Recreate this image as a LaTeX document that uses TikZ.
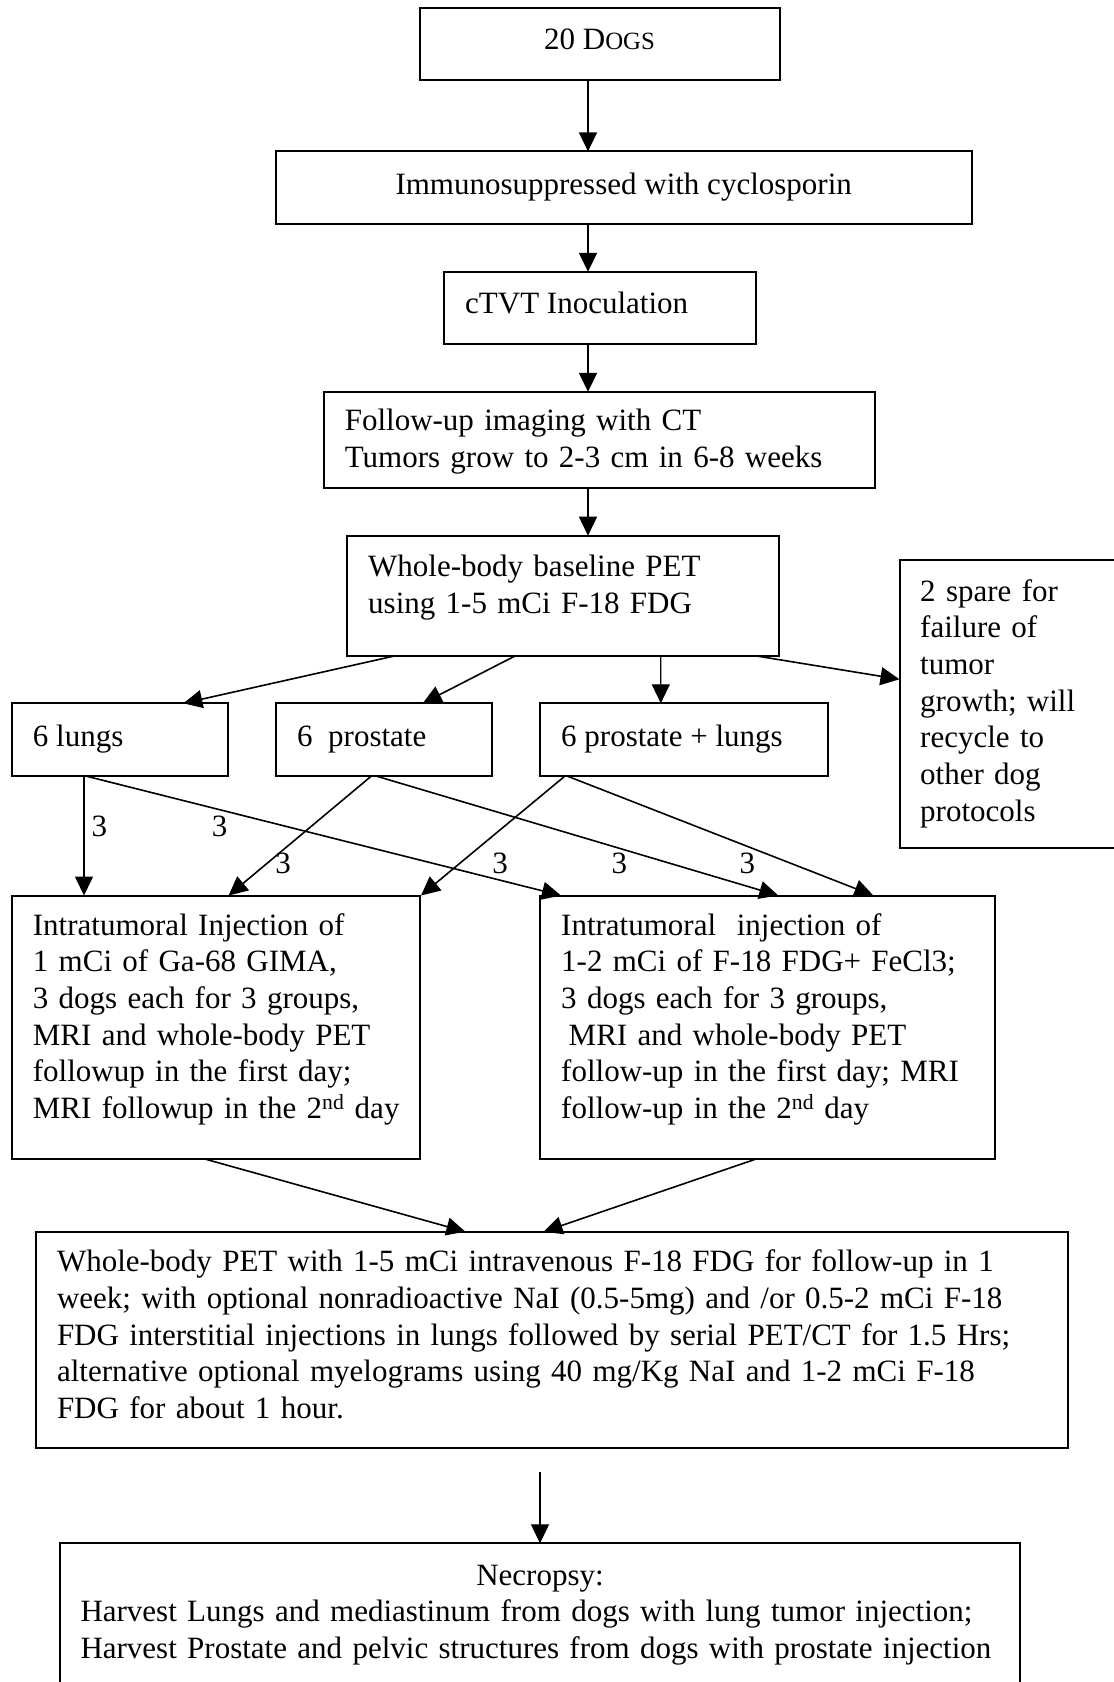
\documentclass[tikz,border=0pt]{standalone}
\usepackage{fontspec}
\setmainfont{Liberation Serif}
\usetikzlibrary{arrows.meta}
\begin{document}
\begin{tikzpicture}[x=1pt,y=-1pt,
 box/.style={draw,line width=2pt,inner sep=0pt,outer sep=0pt,anchor=north west},
 txt/.style={inner sep=0pt,anchor=base west,align=left,font=\fontsize{31}{36.7}\selectfont},
 lbl/.style={inner sep=0pt,font=\fontsize{31}{36.7}\selectfont},
 arr/.style={line width=1.6pt,-{Triangle[length=19pt,width=18pt]}},
 thinarr/.style={line width=1.2pt,-{Triangle[length=19pt,width=18pt]}}]
\clip (0,0) rectangle (1114,1682);
\fill[white] (0,0) rectangle (1114,1682);
% boxes
\node[box,minimum width=360pt,minimum height=72.5pt] (dogs) at (420,7.5) {};
\node[box,minimum width=696.3pt,minimum height=72.6pt] (imm) at (275.7,151.4) {};
\node[box,minimum width=312pt,minimum height=72.2pt] (ctvt) at (444,271.8) {};
\node[box,minimum width=551pt,minimum height=96.2pt] (fol) at (324,391.8) {};
\node[box,minimum width=432pt,minimum height=120.3pt] (wb) at (347.4,535.7) {};
\node[box,minimum width=240pt,minimum height=287.5pt] (spare) at (899.5,560) {};
\node[box,minimum width=216.5pt,minimum height=72.7pt] (lungs) at (11.5,703.3) {};
\node[box,minimum width=215.9pt,minimum height=72.7pt] (prost) at (275.7,703.3) {};
\node[box,minimum width=288pt,minimum height=72.7pt] (pl) at (540,703.3) {};
\node[box,minimum width=408.5pt,minimum height=263.8pt] (inj1) at (11.5,895.5) {};
\node[box,minimum width=455.4pt,minimum height=263.8pt] (inj2) at (540,895.5) {};
\node[box,minimum width=1032.5pt,minimum height=216pt] (pet) at (35.5,1231.7) {};
\node[box,minimum width=960.3pt,minimum height=160pt] (necro) at (59.7,1543.3) {};
% texts
\node[lbl,anchor=base] (tdogs) at (599.5,49.3) {20 D{\fontsize{24.8}{30}\selectfont OGS}};
\node[lbl,anchor=base] (timm) at (623.7,194.5) {Immunosuppressed with cyclosporin};
\node[txt] (tctvt) at (465,313.5) {cTVT Inoculation};
\node[txt,text width=520pt] (tfol) at (344.6,430.5) {Follow-up imaging with CT\\Tumors grow to 2-3 cm in 6-8 weeks};
\node[txt,text width=400pt] (twb) at (368,576.7) {Whole-body baseline PET\\using 1-5 mCi F-18 FDG};
\node[txt,text width=190pt] (tspare) at (920,601) {2 spare for\\failure of\\tumor\\growth; will\\recycle to\\other dog\\protocols};
\node[txt] (tl) at (32.7,746.7) {6 lungs};
\node[txt] (tp) at (297,746.7) {6~ prostate};
\node[txt] (tpl) at (561,746.7) {6 prostate + lungs};
\node[txt,text width=385pt] (ti1) at (32.7,935) {Intratumoral Injection of\\1 mCi of Ga-68 GIMA,\\3 dogs each for 3 groups,\\MRI and whole-body PET\\followup in the first day;\\MRI followup in the 2\textsuperscript{nd} day};
\node[txt,text width=430pt] (ti2) at (561,935) {Intratumoral~ injection of\\1-2 mCi of F-18 FDG+ FeCl3;\\3 dogs each for 3 groups,\\\hspace*{7.5pt}MRI and whole-body PET\\follow-up in the first day; MRI\\follow-up in the 2\textsuperscript{nd} day};
\node[txt,text width=1005pt] (tpet) at (56.8,1271.7) {Whole-body PET with 1-5 mCi intravenous F-18 FDG for follow-up in 1\\week; with optional nonradioactive NaI (0.5-5mg) and /or 0.5-2 mCi F-18\\FDG interstitial injections in lungs followed by serial PET/CT for 1.5 Hrs;\\alternative optional myelograms using 40 mg/Kg NaI and 1-2 mCi F-18\\FDG for about 1 hour.};
\node[lbl,anchor=base] (tnec1) at (540,1585) {Necropsy:};
\node[txt,text width=935pt] (tnec) at (80.3,1621.7) {Harvest Lungs and mediastinum from dogs with lung tumor injection;\\Harvest Prostate and pelvic structures from dogs with prostate injection};
% arrows
\draw[arr] ([xshift=168pt]dogs.south west) -- ([xshift=312.3pt]imm.north west);
\draw[arr] ([xshift=312.3pt]imm.south west) -- ([xshift=144pt]ctvt.north west);
\draw[arr] ([xshift=144pt]ctvt.south west) -- ([xshift=264pt]fol.north west);
\draw[arr] ([xshift=264pt]fol.south west) -- ([xshift=240.6pt]wb.north west);
\draw[arr] ([xshift=46.9pt]wb.south west) -- ([xshift=171.8pt]lungs.north west);
\draw[arr] ([xshift=167.6pt]wb.south west) -- ([xshift=147pt]prost.north west);
\draw[thinarr] ([xshift=313.4pt]wb.south west) -- ([xshift=120.8pt]pl.north west);
\draw[arr] ([xshift=409.3pt]wb.south west) -- ([yshift=-119.3pt]spare.north west);
\draw[arr] ([xshift=72.5pt]lungs.south west) -- ([xshift=72.5pt]inj1.north west);
\draw[arr] ([xshift=74.2pt]lungs.south west) -- ([xshift=21pt]inj2.north west);
\draw[arr] ([xshift=95.7pt]prost.south west) -- ([xshift=217.1pt]inj1.north west);
\draw[arr] ([xshift=100.3pt]prost.south west) -- ([xshift=238.3pt]inj2.north west);
\draw[arr] ([xshift=25pt]pl.south west) -- ([xshift=409.5pt]inj1.north west);
\draw[arr] ([xshift=27pt]pl.south west) -- ([xshift=333.3pt]inj2.north west);
\draw[arr] ([xshift=194.5pt]inj1.south west) -- ([xshift=429.9pt]pet.north west);
\draw[arr] ([xshift=215.2pt]inj2.south west) -- ([xshift=508pt]pet.north west);
\coordinate (pstart) at (540,1471.7);
\draw[thinarr] (pstart) -- ([xshift=480.3pt]necro.north west);
% labels
\node[lbl] (l1) at (99.3,826.7) {3};
\node[lbl] (l2) at (219.6,826.7) {3};
\node[lbl] (l3) at (283,863.3) {3};
\node[lbl] (l4) at (500,863.3) {3};
\node[lbl] (l5) at (619.3,863.3) {3};
\node[lbl] (l6) at (747.3,863.3) {3};
\end{tikzpicture}
\end{document}
